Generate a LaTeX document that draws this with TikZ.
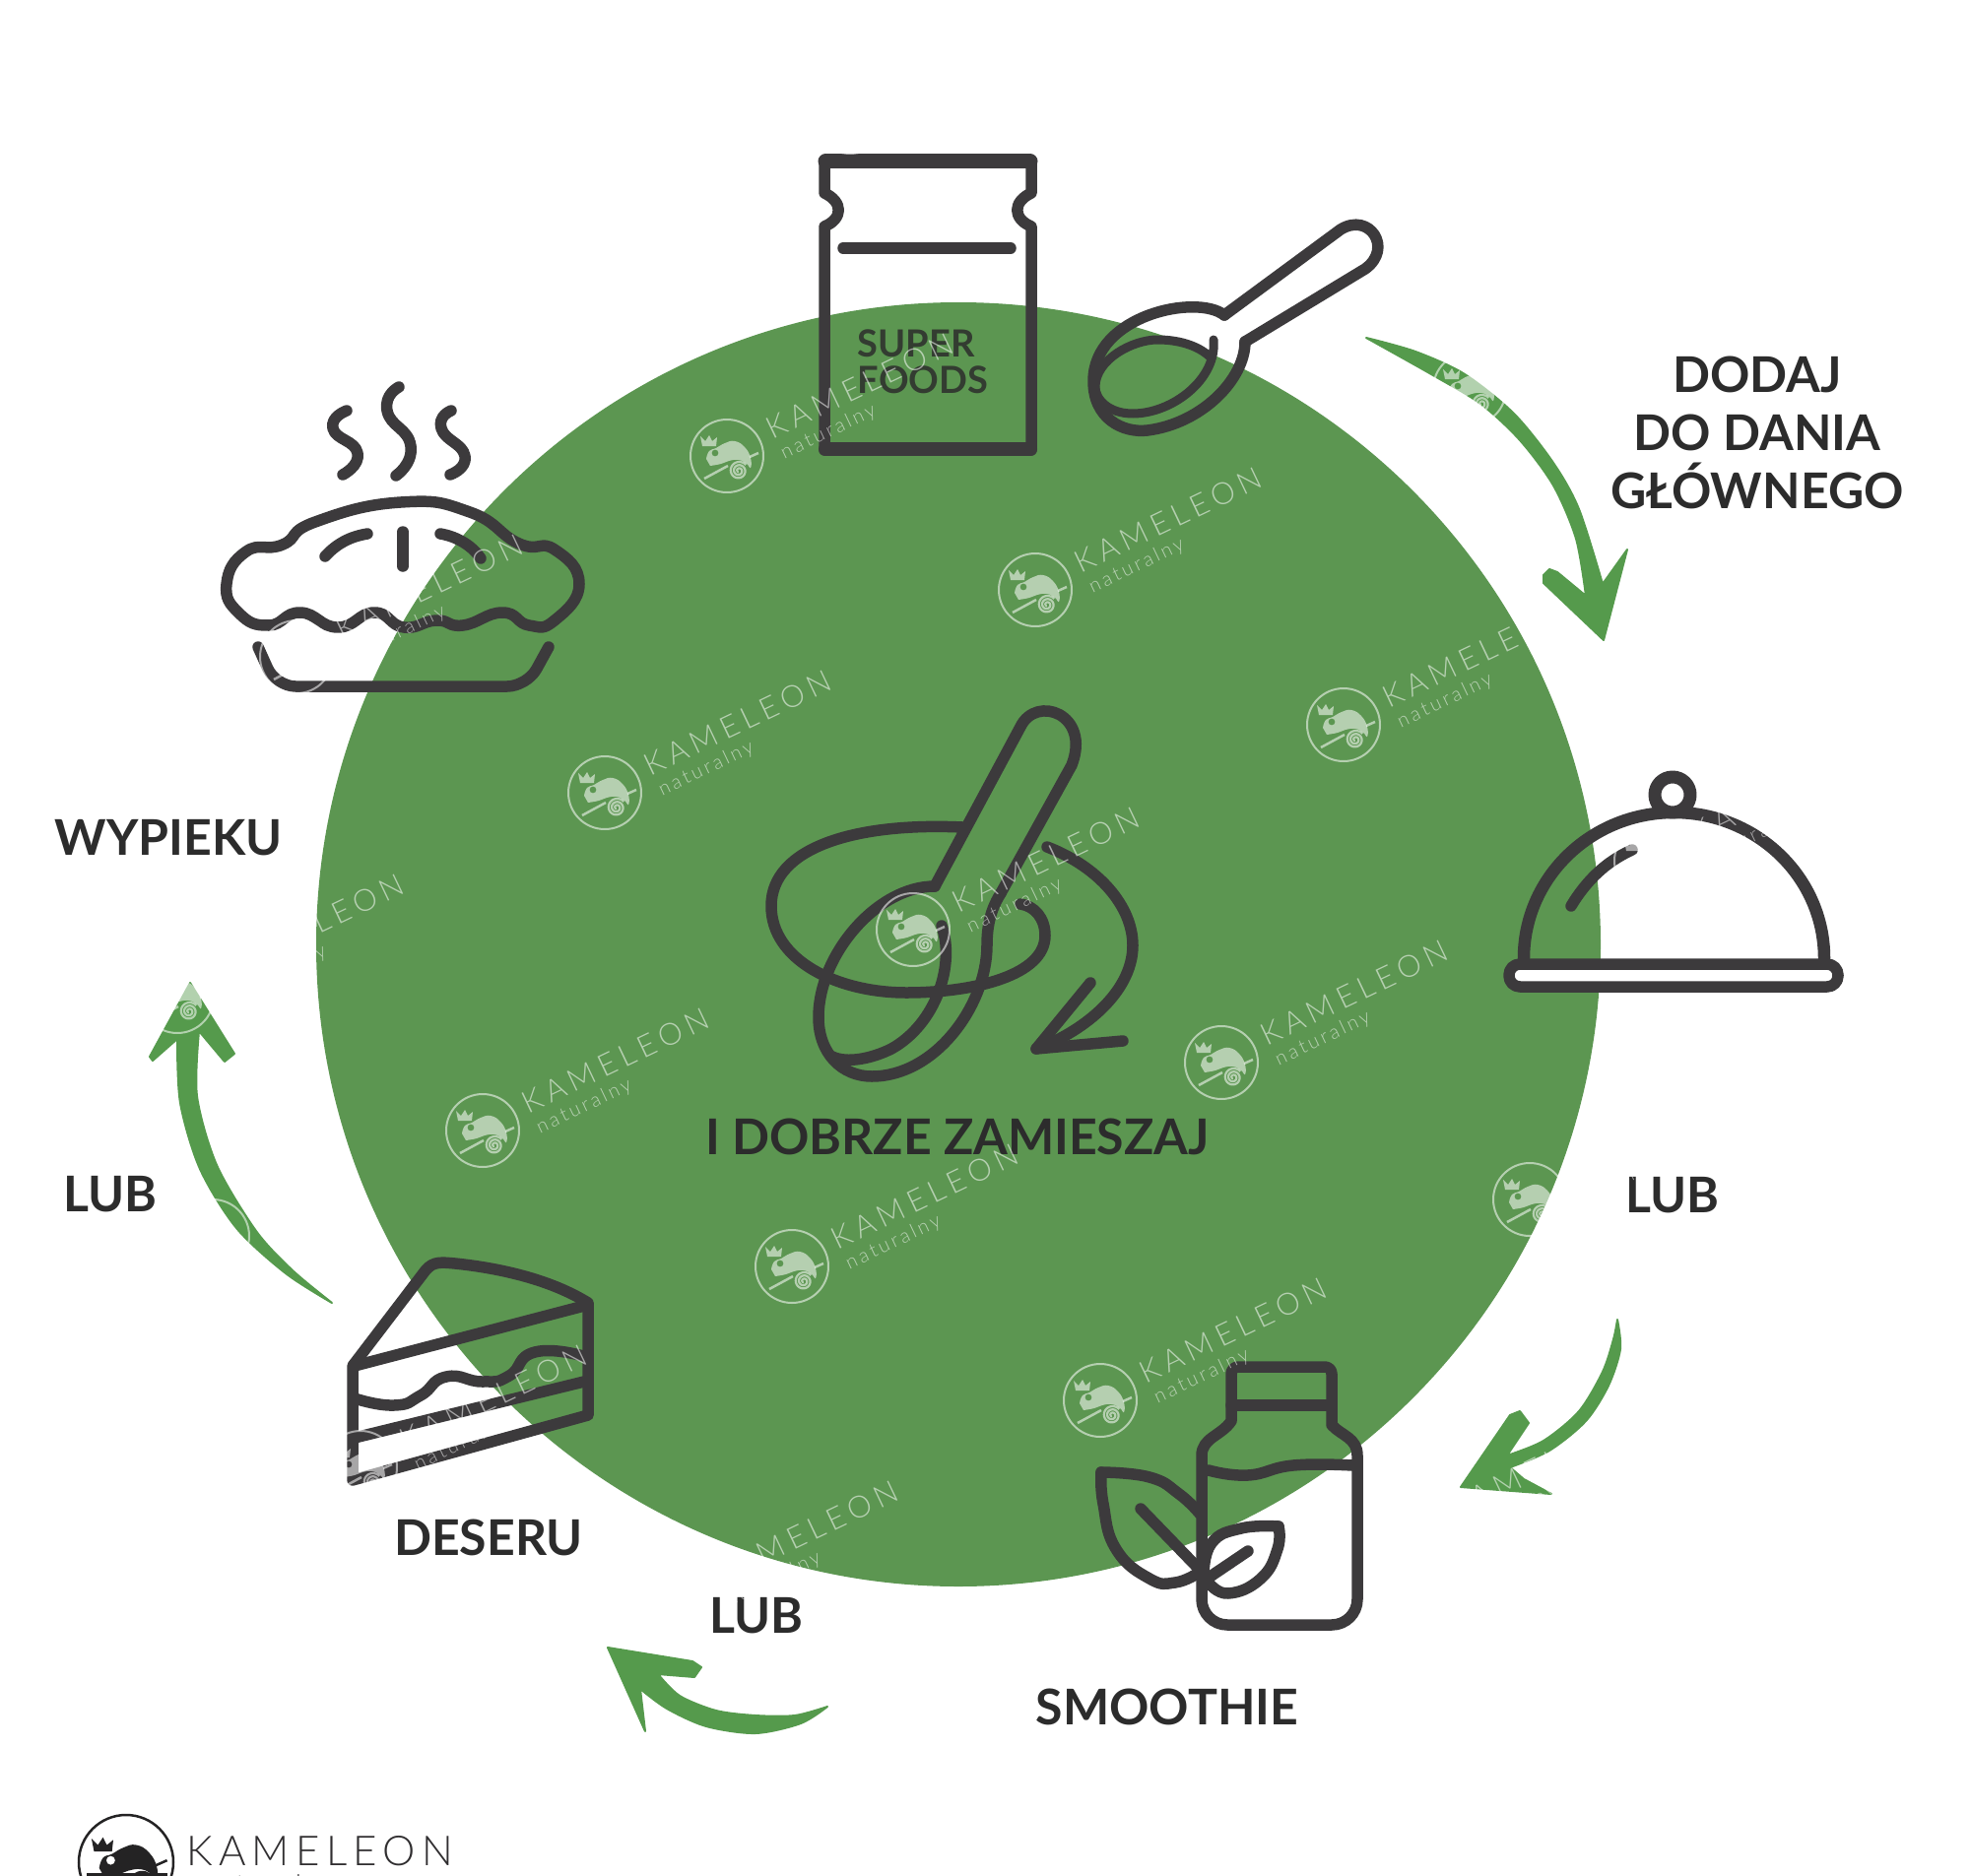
\documentclass[tikz,border=0pt]{standalone}
\usepackage{fontspec}
\setmainfont{Lato}
\newfontfamily\kamfont{Lato}[UprightFont=* Light,LetterSpace=15]
\newfontfamily\markfont{Lato}[UprightFont=* Light,LetterSpace=18]
\usepackage{xcolor}
\usetikzlibrary{positioning, calc}
\definecolor{discgreen}{HTML}{5C9651}
\definecolor{arrowgreen}{HTML}{559A4C}
\definecolor{inkgrey}{HTML}{3C3A3C}
\definecolor{labelink}{HTML}{2C2C2C}
\tikzset{
    icon/.style={draw=inkgrey, line width=11.5pt, line cap=round, line join=round},
    curvearrow/.style={fill=arrowgreen, draw=arrowgreen, line width=2pt, line join=round},
    steplabel/.style={font=\bfseries\fontsize{50}{59}\selectfont, text=labelink, align=center, inner sep=0pt},
    markline/.style={draw=white, draw opacity=0.55, fill=none},
    markfill/.style={fill=white, fill opacity=0.55}
}
% chameleon body with eye hole, crown, tail and branch around the origin
\newcommand{\kamhead}[2]{
    \fill[#1, even odd rule] plot[smooth, tension=0.8] coordinates {(-21,3) (-18,-5) (-11,-8) (-2,-13) (8,-15) (18,-9) (24,2) (24,12) (20,8) (12,4) (2,5) (-6,8) (-17,10)} -- cycle (-12,-3) circle (3.5);
    \fill[#1] (-25,-10) -- (-27,-20) -- (-22,-15) -- (-18,-21) -- (-15,-15) -- (-10,-19) -- (-11,-10) -- cycle;
    \draw[#2, line width=2.2pt] plot[domain=100:1040, samples=70] ({12+\x/110*cos(\x)},{15+\x/110*sin(\x)});
    \draw[#2, line width=2.5pt] (-23,23) -- (1,10);
    \draw[#2, line width=2.5pt] (23,1) -- (32,-3);
}
\begin{document}
\begin{tikzpicture}[x=1pt,y=-1pt]
    \useasboundingbox (0,0) rectangle (2000,1905);
    \clip (0,0) rectangle (2000,1905);

    % Green disc
    \fill[discgreen] (973,959) circle (652);

    % Bag
    \draw[icon, line cap=butt] (837,163) -- (837,196) .. controls (856,205) and (856,222) .. (837,230) -- (837,457) -- (1047,457) -- (1047,230) .. controls (1028,222) and (1028,205) .. (1047,196) -- (1047,163) -- cycle;
    \draw[icon, line width=15pt] (838,164) -- (1046,164);
    \draw[icon, line width=14pt] (838,456) -- (1046,456);
    \draw[icon] (856,252) -- (1026,252);
    \node[inner sep=0pt, align=left, text=labelink!85!discgreen, font=\bfseries\fontsize{38}{37}\selectfont] (bagtext) at (937,367) {SUPER\\FOODS};

    % Spoon
    \draw[icon] (1243,320) .. controls (1215,298) and (1110,320) .. (1110,387) .. controls (1110,425) and (1140,440) .. (1165,437) .. controls (1220,430) and (1264,385) .. (1264,347);
    \draw[icon] (1243,320) -- (1361,233) .. controls (1390,215) and (1415,252) .. (1386,273) -- (1264,347);
    \draw[icon, line width=9pt] (1232,345) .. controls (1236,385) and (1190,420) .. (1150,420) .. controls (1125,420) and (1112,405) .. (1112,393) .. controls (1112,365) and (1150,345) .. (1175,345) .. controls (1195,345) and (1215,350) .. (1228,362);

    % Cloche
    \draw[icon, line width=12.5pt] (1547,973) arc[start angle=180, end angle=360, x radius=152.5, y radius=148];
    \draw[icon, line width=13pt, fill=white] (1698,807) circle (18);
    \draw[icon] (1595,920) .. controls (1610,895) and (1630,875) .. (1657,863);
    \draw[icon, fill=white] (1532,979) [rounded corners=11] -- (1866,979) -- (1866,1002) -- (1532,1002) -- cycle;

    % Bottle
    \draw[icon] (1250,1443) [rounded corners=7] -- (1250,1388) -- (1352,1388) [sharp corners] -- (1352,1447) .. controls (1362,1458) and (1378,1460) .. (1378,1478) [rounded corners=26] -- (1378,1650) -- (1220,1650) [sharp corners] -- (1220,1478) .. controls (1220,1460) and (1240,1458) .. (1250,1443);
    \draw[icon] (1250,1427) -- (1352,1427);
    \draw[icon] plot[smooth, tension=0.8] coordinates {(1227,1493) (1267,1498) (1313,1488) (1373,1488)};

    % Leaves
    \draw[icon] plot[smooth, tension=0.8] coordinates {(1118,1495) (1167,1500) (1197,1517) (1218,1537)};
    \draw[icon] plot[smooth, tension=0.8] coordinates {(1118,1495) (1120,1527) (1133,1573) (1167,1603) (1193,1607) (1217,1597)};
    \draw[icon] (1158,1532) -- (1217,1593);
    \draw[icon] plot[smooth, tension=0.8] coordinates {(1298,1550) (1260,1552) (1230,1567) (1222,1600)};
    \draw[icon] plot[smooth, tension=0.8] coordinates {(1298,1550) (1297,1573) (1280,1603) (1247,1618) (1227,1607)};
    \draw[icon] (1267,1575) -- (1230,1600);

    % Cake
    \draw[icon] (358,1503) -- (358,1387) -- (432,1290) .. controls (440,1280) and (450,1282) .. (462,1283) .. controls (510,1288) and (560,1300) .. (597,1323) -- (597,1437) -- cycle;
    \draw[icon] (360,1387) -- (597,1325);
    \draw[icon] plot[smooth, tension=0.9] coordinates {(360,1420) (400,1427) (427,1417) (453,1398) (490,1403) (517,1397) (543,1373) (592,1377)};
    \draw[icon] (360,1460) -- (597,1402);

    % Pie
    \draw[icon] plot[smooth, tension=1] coordinates {(352,417) (338,435) (363,460) (348,482)};
    \draw[icon] plot[smooth, tension=1] coordinates {(405,393) (393,417) (417,453) (402,483)};
    \draw[icon] plot[smooth, tension=1] coordinates {(458,417) (448,435) (472,463) (457,482)};
    \draw[icon] plot[smooth cycle, tension=0.85] coordinates {(287,553) (320,530) (407,510) (477,520) (527,552) (563,558) (588,593) (563,630) (537,635) (510,622) (470,635) (443,630) (410,637) (380,622) (343,637) (305,622) (273,635) (243,623) (230,593) (250,560)};
    \draw[icon] (330,565) .. controls (342,552) and (355,545) .. (373,542);
    \draw[icon] (409,540) -- (409,575);
    \draw[icon] (447,542) .. controls (465,545) and (480,555) .. (488,567);
    \draw[icon, rounded corners=20] (262,657) -- (280,697) -- (535,697) -- (557,657);

    % Stirring spoon in the middle
    \draw[icon] (1016,907) -- (1088,777) .. controls (1108,725) and (1052,705) .. (1036,738) -- (949,900);
    \draw[icon] (949,900) .. controls (890,900) and (831,970) .. (831,1033) .. controls (831,1070) and (855,1093) .. (885,1093) .. controls (950,1093) and (1002,1020) .. (1002,960) .. controls (1002,935) and (1008,920) .. (1016,907);
    \draw[icon] (956,940) .. controls (970,980) and (950,1040) .. (905,1065) .. controls (885,1075) and (860,1080) .. (845,1073);
    \draw[icon] (977,840) .. controls (870,835) and (783,860) .. (783,920) .. controls (783,975) and (850,1008) .. (920,1008) .. controls (990,1008) and (1061,990) .. (1061,950) .. controls (1061,932) and (1050,920) .. (1036,918);
    \draw[icon] (1063,860) .. controls (1115,880) and (1150,920) .. (1150,960) .. controls (1150,1010) and (1095,1050) .. (1052,1065);
    \draw[icon] (1107,998) -- (1052,1065) -- (1140,1057);

    % Curved arrows
    \fill[curvearrow] plot[smooth] coordinates {(1387,343) (1437,357) (1487,380) (1537,420) (1577,470) (1603,517) (1627,593)} -- (1652,558) -- (1628,650) -- (1567,592) -- (1567,584) -- (1573,578) -- (1581,581) -- (1610,605) -- plot[smooth] coordinates {(1610,605) (1600,547) (1577,493) (1543,447) (1503,410) (1453,380) (1387,343)} -- cycle;
    \fill[curvearrow] plot[smooth] coordinates {(1642,1340) (1645,1370) (1633,1407) (1610,1443) (1573,1473) (1533,1490)} -- (1547,1502) -- (1575,1517) -- (1483,1510) -- (1533,1437) -- (1543,1433) -- (1552,1445) -- (1530,1478) -- plot[smooth] coordinates {(1530,1478) (1567,1463) (1603,1433) (1627,1393) (1638,1360) (1642,1340)} -- cycle;
    \fill[curvearrow] plot[smooth] coordinates {(840,1733) (813,1750) (767,1760) (717,1753) (677,1735) (650,1715)} -- (655,1758) -- (617,1673) -- (703,1687) -- (712,1693) -- (705,1703) -- (668,1700) -- plot[smooth] coordinates {(668,1700) (690,1722) (727,1737) (767,1742) (807,1742) (840,1733)} -- cycle;
    \fill[curvearrow] plot[smooth] coordinates {(337,1323) (290,1293) (240,1247) (203,1187) (183,1120) (180,1055)} -- (155,1077) -- (152,1073) -- (193,998) -- (238,1070) -- (228,1078) -- (202,1047) -- plot[smooth] coordinates {(202,1047) (200,1113) (220,1183) (260,1250) (297,1290) (337,1323)} -- cycle;

    % Labels
    \node[steplabel] (mainlabel) at (1784,439) {DODAJ\\DO DANIA\\GŁÓWNEGO};
    \node[steplabel] (pielabel) at (171,851) {WYPIEKU};
    \node[steplabel] (lubleft) at (112,1213) {LUB};
    \node[steplabel] (lubright) at (1698,1214) {LUB};
    \node[steplabel] (lubbottom) at (768,1641) {LUB};
    \node[steplabel] (cakelabel) at (496,1561) {DESERU};
    \node[steplabel] (smoothielabel) at (1185,1733) {SMOOTHIE};
    \node[steplabel] (stirlabel) at (972,1154) {I DOBRZE ZAMIESZAJ};

    % Watermarks
    \foreach \mx/\my in {738/463, 1051/599, 1364/736, 1676/874, 614/805, 927/944, 1240/1079, 1553/1218, 490/1148, 804/1286, 1117/1422, 1430/1560, 301/667, 180/1012, 366/1490, 682/1628, 1492/395, 863/119} {
        \begin{scope}[shift={(\mx,\my)}]
            \draw[markline, line width=2pt] (0,0) circle (37);
            \kamhead{markfill}{markline}
            \node[rotate=25.5, inner sep=0pt, text=white, text opacity=0.55, font=\markfont\fontsize{31}{31}\selectfont] (kamname) at (135,-71) {KAMELEON};
            \node[rotate=25.5, inner sep=0pt, text=white, text opacity=0.55, font=\kamfont\fontsize{20}{20}\selectfont] (kamsub) at (103,-24) {naturalny};
        \end{scope}
    }
    \draw[markline, line width=2pt] (216,1255) circle (37);

    % Logo at the foot
    \draw[inkgrey!60!black, line width=2.5pt] (128,1891) circle (48);
    \begin{scope}[shift={(128,1893)},scale=1.3]
        \kamhead{fill=inkgrey!60!black}{draw=inkgrey!60!black}
    \end{scope}
    \fill[inkgrey!60!black] (88,1902) rectangle (170,1905);
    \node[inner sep=0pt, anchor=west, text=inkgrey!80!black, font=\kamfont\fontsize{42}{42}\selectfont] (logoname) at (189,1880) {KAMELEON};
    \node[inner sep=0pt, anchor=west, text=inkgrey!80!black, font=\kamfont\fontsize{26}{26}\selectfont] (logosub) at (205,1915) {naturalny};
\end{tikzpicture}
\end{document}
